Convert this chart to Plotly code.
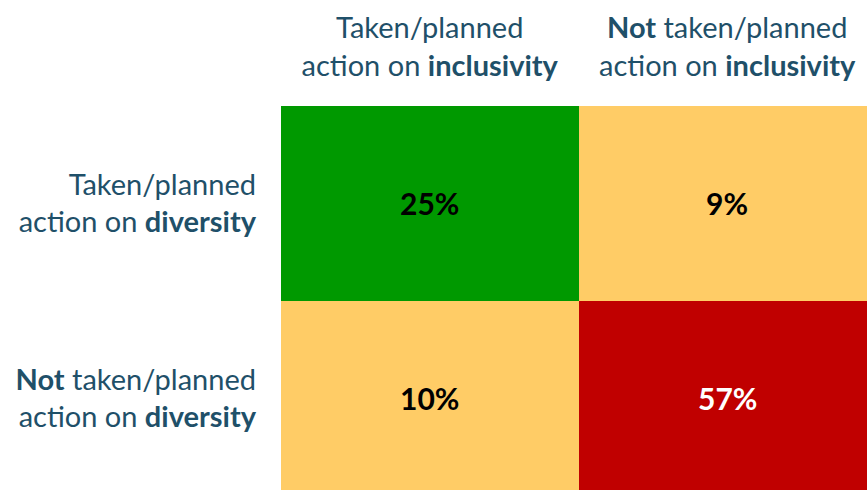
import plotly.graph_objects as go

# 2x2 matrix: rows = diversity action, cols = inclusivity action
col_labels = [
    "Taken/planned<br>action on <b>inclusivity</b>",
    "<b>Not</b> taken/planned<br>action on <b>inclusivity</b>",
]
row_labels = [
    "Taken/planned<br>action on <b>diversity</b>",
    "<b>Not</b> taken/planned<br>action on <b>diversity</b>",
]
shares = [
    [25, 9],
    [10, 57],
]
# colour class per cell: 0 = green, 1 = amber, 2 = red
cell_class = [
    [0, 1],
    [1, 2],
]
class_colors = ["#009900", "#FFCC66", "#C00000"]
value_font_colors = ["#000000", "#000000", "#FFFFFF"]

TEXT_COLOR = "#1F5069"
FONT = "Lato, 'Open Sans', sans-serif"

colorscale = [
    [0.0, class_colors[0]], [1 / 3, class_colors[0]],
    [1 / 3, class_colors[1]], [2 / 3, class_colors[1]],
    [2 / 3, class_colors[2]], [1.0, class_colors[2]],
]

fig = go.Figure()
fig.add_trace(
    go.Heatmap(
        z=cell_class,
        x=[0, 1],
        y=[0, 1],
        zmin=-0.5,
        zmax=2.5,
        colorscale=colorscale,
        showscale=False,
        hoverinfo="skip",
        xgap=0,
        ygap=0,
    )
)

for r, row in enumerate(shares):
    for c, v in enumerate(row):
        fig.add_annotation(
            x=c,
            y=r,
            text=f"<b>{v}%</b>",
            showarrow=False,
            font=dict(size=30, color=value_font_colors[cell_class[r][c]], family=FONT),
        )

fig.update_xaxes(
    side="top",
    range=[-0.5, 1.47],
    tickvals=[0, 1],
    ticktext=col_labels,
    tickfont=dict(size=29, color=TEXT_COLOR, family=FONT),
    showgrid=False,
    zeroline=False,
    ticks="",
    ticklabelstandoff=23,
)
fig.update_yaxes(
    range=[1.47, -0.5],
    tickvals=[0, 1],
    ticktext=row_labels,
    tickfont=dict(size=29, color=TEXT_COLOR, family=FONT),
    showgrid=False,
    zeroline=False,
    ticks="",
    ticklabelstandoff=24,
)

fig.update_layout(
    width=867,
    height=490,
    margin=dict(l=281, r=0, t=106, b=0),
    paper_bgcolor="white",
    plot_bgcolor="white",
    showlegend=False,
)

# drop the default body margin so the figure fills the window exactly
fig.write_html(
    "out.html",
    config={"displayModeBar": False},
    post_script="document.body.style.margin='0';document.body.style.overflow='hidden';",
)
